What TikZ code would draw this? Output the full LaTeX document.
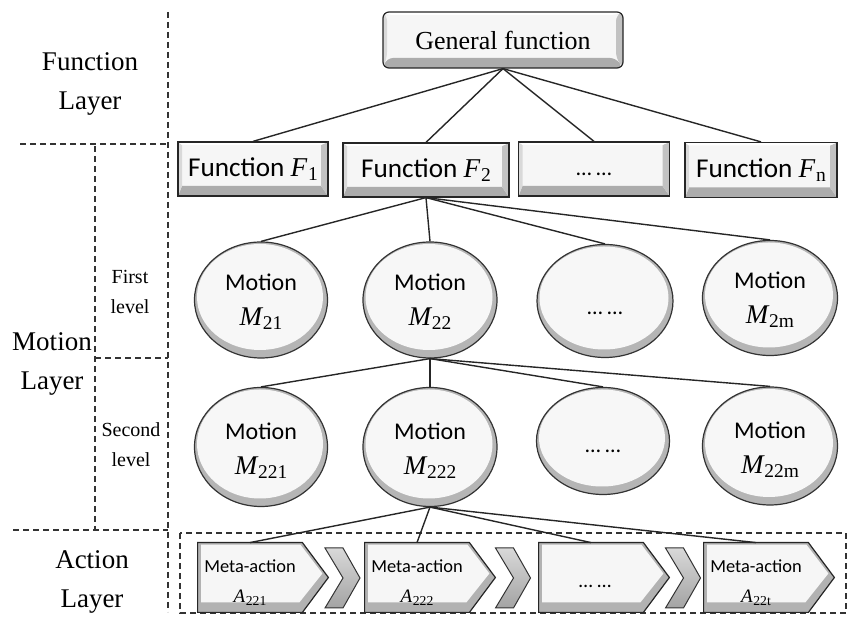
\documentclass[tikz,border=0pt]{standalone}
\usepackage{graphicx}
\usepackage{fontspec}
\setmainfont{Liberation Serif}
\newfontfamily\carl{Carlito}
\newfontfamily\mfont{Liberation Serif}
\usetikzlibrary{shapes.geometric,calc}

\newcommand\mv[2]{{\mfont\itshape #1}\kern0.03em\raisebox{-0.32ex}{\mfont\scalebox{0.72}{#2}}}

\tikzset{
  conn/.style={line width=0.7pt, draw=black!85},
  sepline/.style={dash pattern=on 3pt off 2pt, line width=0.55pt, draw=black!80},
  bevel/.style={path picture={
    \fill[gray!65] let \p1=(path picture bounding box.south west), \p2=(path picture bounding box.north east) in
      (\x1,\y1) -- (\x2,\y1) -- (\x2-3.5pt,\y1+5pt) -- (\x1+2pt,\y1+5pt) -- cycle;
    \fill[gray!48] let \p1=(path picture bounding box.south west), \p2=(path picture bounding box.north east) in
      (\x2,\y1) -- (\x2,\y2) -- (\x2-3.5pt,\y2-1.5pt) -- (\x2-3.5pt,\y1+5pt) -- cycle;
    \fill[gray!30] let \p1=(path picture bounding box.south west), \p2=(path picture bounding box.north east) in
      (\x1,\y1) -- (\x1,\y2) -- (\x1+2pt,\y2-1.5pt) -- (\x1+2pt,\y1+5pt) -- cycle;
    \fill[white] let \p1=(path picture bounding box.south west), \p2=(path picture bounding box.north east) in
      (\x1,\y2) -- (\x2,\y2) -- (\x2-3.5pt,\y2-1.5pt) -- (\x1+2pt,\y2-1.5pt) -- cycle;
  }},
  fbox/.style={rectangle, draw=black!85, line width=0.6pt, fill=gray!7, bevel, inner sep=0pt,
    font=\carl\fontsize{13.6}{15}\selectfont},
  gbox/.style={fbox, rounded corners=3pt, font=\fontsize{13}{15}\selectfont},
  ell/.style={ellipse, draw=black!80, line width=0.6pt, fill=gray!58, inner sep=0pt},
  elli/.style={ellipse, fill=gray!6, inner sep=0pt},
  mtext/.style={align=center, inner sep=0pt, font=\carl\fontsize{12}{17.5}\selectfont},
  dots/.style={inner sep=0pt, font=\carl\fontsize{11}{13}\selectfont},
  abody/.style={rectangle, inner sep=0pt, minimum width=52pt, minimum height=34.5pt},
  aout/.style={draw=black!85, line width=0.6pt, fill=gray!60},
  ain/.style={fill=gray!7},
  atext/.style={align=center, inner sep=0pt, font=\carl\fontsize{9.2}{15}\selectfont},
  chev/.style={draw=black!80, line width=0.5pt, top color=gray!30, bottom color=gray!72},
  lay/.style={align=center, inner sep=0pt, font=\fontsize{13.5}{19.5}\selectfont},
  lvl/.style={align=center, inner sep=0pt, font=\fontsize{10}{15}\selectfont},
}

\newcommand\motnode[5]{%
  \node[ell, minimum width=#4*0.5pt, minimum height=#5*0.5pt] (#1) at (#2,#3) {};
  \node[elli, minimum width=(#4-7)*0.5pt, minimum height=(#5-10)*0.5pt] (#1i) at (#2-1,#3-3) {};
}
\newcommand\actnode[3]{%
  \node[abody] (#1) at (#2,#3) {};
  \path[aout] (#1.north west) -- (#1.north east) -- ([xshift=13pt]#1.east) -- (#1.south east) -- (#1.south west) -- cycle;
  \path[ain] ([xshift=1.8pt,yshift=-1pt]#1.north west) -- ([xshift=-1pt,yshift=-1pt]#1.north east)
     -- ([xshift=10pt,yshift=2pt]#1.east) -- ([xshift=-1.5pt,yshift=5pt]#1.south east)
     -- ([xshift=1.8pt,yshift=5pt]#1.south west) -- cycle;
}
\newcommand\chevnode[3]{%
  \coordinate (#1) at (#2,#3);
  \path[chev, shift={(#1)}] (-17.5,-30) -- (0.5,-30) -- (17.5,0) -- (0.5,30) -- (-17.5,30) -- (0.5,0) -- cycle;
}
\newcommand\motvar[2]{{\fontsize{13.5}{17.5}\selectfont\mv{#1}{#2}}}
\newcommand\actvar[2]{{\fontsize{9.5}{15}\selectfont\mv{#1}{#2}}}

\begin{document}
\begin{tikzpicture}[x=0.5pt, y=-0.5pt]
\useasboundingbox (0,0) rectangle (848,619);

% separators
\draw[sepline] (168,12) -- (168,612);
\draw[sepline] (20,144) -- (168,144);
\draw[sepline] (95,146) -- (95,530);
\draw[sepline] (95,358) -- (168,358);
\draw[sepline, line width=0.9pt] (13,530) -- (168,530);
\draw[sepline] (180,533) rectangle (846,613);

% layer labels
\node[lay] (lf) at (90,84) {Function\\Layer};
\node[lay] (lm) at (52,364) {Motion\\Layer};
\node[lay] (la) at (92,582) {Action\\Layer};
\node[lvl] (l1) at (130,292) {First\\level};
\node[lvl] (l2) at (131,445) {Second\\level};

% function layer
\node[gbox, minimum width=120pt, minimum height=28pt] (gf) at (503,40) {General function};
\node[fbox, minimum width=75pt, minimum height=27pt] (f1) at (253,169) {Function \mv{F}{1}};
\node[fbox, minimum width=83pt, minimum height=27pt] (f2) at (426,170) {Function \mv{F}{2}};
\node[fbox, minimum width=75.5pt, minimum height=27pt, font=\carl\fontsize{11}{13}\selectfont] (fd) at (594,169) {\vphantom{F}… …};
\node[fbox, minimum width=76pt, minimum height=27.5pt] (fn) at (761,170) {Function \mv{F}{n}};

% first level motions
\motnode{m21}{261}{300}{133}{116}
\motnode{m22}{430}{300}{134}{116}
\motnode{m2d}{605}{301}{136}{113}
\motnode{m2m}{770}{298}{135}{115}
\node[mtext] (m21t) at (261,302) {Motion\\\motvar{M}{21}};
\node[mtext] (m22t) at (430,302) {Motion\\\motvar{M}{22}};
\node[dots] (m2dt) at (605,313) {… …};
\node[mtext] (m2mt) at (770,300) {Motion\\\motvar{M}{2m}};

% second level motions
\motnode{m221}{261}{447}{133}{119}
\motnode{m222}{430}{447}{134}{119}
\motnode{m22d}{603}{441}{133}{107}
\motnode{m22m}{770}{446}{135}{118}
\node[mtext] (m221t) at (261,451) {Motion\\\motvar{M}{221}};
\node[mtext] (m222t) at (430,451) {Motion\\\motvar{M}{222}};
\node[dots] (m22dt) at (603,451) {… …};
\node[mtext] (m22mt) at (770,450) {Motion\\\motvar{M}{22m}};

% action layer
\actnode{a1}{250}{577.5}
\actnode{a2}{417}{577.5}
\actnode{a3}{591}{577.5}
\actnode{a4}{756}{577.5}
\chevnode{c1}{342.5}{578}
\chevnode{c2}{513}{578}
\chevnode{c3}{683}{578}
\node[atext] (a1t) at (250,583) {Meta-action\\\actvar{A}{221}};
\node[atext] (a2t) at (417,583) {Meta-action\\\actvar{A}{222}};
\node[dots, font=\carl\fontsize{10}{12}\selectfont] (a3t) at (595,586) {… …};
\node[atext] (a4t) at (756,583) {Meta-action\\\actvar{A}{22t}};

% connectors
\foreach \t in {f1,f2,fd,fn} \draw[conn] (gf.south) -- (\t.north);
\foreach \t in {m21,m22,m2d,m2m} \draw[conn] (f2.south) -- (\t.north);
\foreach \t in {m221,m222,m22d,m22m} \draw[conn] (m22.south) -- (\t.north);
\foreach \t in {a1,a2,a3,a4} \draw[conn] (m222.south) -- (\t.north);
\end{tikzpicture}
\end{document}
